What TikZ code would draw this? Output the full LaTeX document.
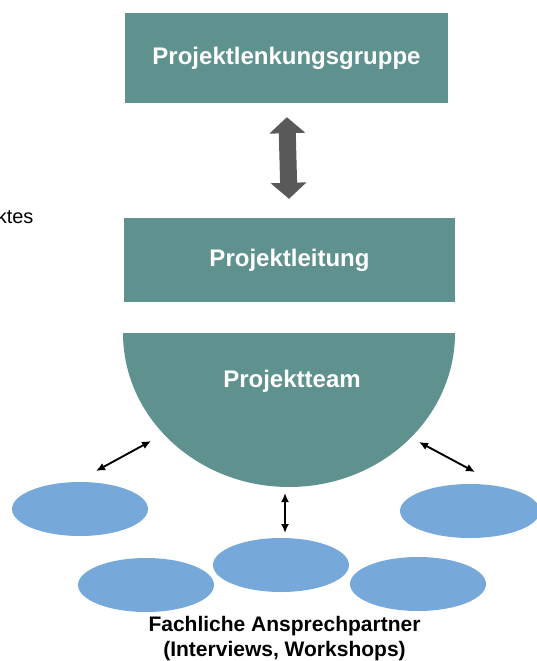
\documentclass[tikz,border=0pt]{standalone}
\usepackage{fontspec}
\setmainfont{Liberation Sans}
\usepackage{tikz}
\usetikzlibrary{arrows.meta,shapes.geometric}
\definecolor{plTeal}{HTML}{5F918F}
\definecolor{plBlue}{HTML}{76A9DA}
\definecolor{plGrau}{HTML}{595959}
\tikzset{
  plkasten/.style={rectangle,fill=plTeal,inner sep=0pt,text=white,
                   font=\fontsize{24}{28}\selectfont\bfseries},
  plellipse/.style={ellipse,fill=plBlue,inner sep=0pt,
                    minimum width=136,minimum height=54},
  plpfeil/.style={{Latex[length=9pt,width=8pt]}-{Latex[length=9pt,width=8pt]},
                  line width=1.9pt,black},
  plblock/.style={{Triangle[length=16pt,width=35pt]}-{Triangle[length=16pt,width=35pt]},
                  line width=17pt,plGrau},
  pltext/.style={font=\fontsize{21}{25}\selectfont\bfseries,align=center}
}

\begin{document}
\begin{tikzpicture}[x=1pt,y=-1pt]
    \useasboundingbox (0,0) rectangle (536,661);

    \node[plkasten,minimum width=323,minimum height=90] (lenkung)
      at (286.5,58) {Projektlenkungsgruppe};
    \node[plkasten,minimum width=331,minimum height=84] (leitung)
      at (289.5,260) {Projektleitung};
    \node[font=\fontsize{20}{24}\selectfont,anchor=base east] (rest)
      at (37,223) {ktes};

    \draw[plblock,shorten <=14pt,shorten >=19pt] (lenkung.south) -- (leitung.north);

    % Projektteam als Halbellipse
    \fill[plTeal] (123,333) arc[start angle=180,end angle=0,
      x radius=166,y radius=154] -- cycle;
    \node[plkasten,fill=none] (team) at (292,381) {Projektteam};

    \node[plellipse] (e1) at (80,509) {};
    \node[plellipse,minimum width=140] (e2) at (470,511) {};
    \node[plellipse] (e3) at (281,565) {};
    \node[plellipse] (e4) at (146,585) {};
    \node[plellipse] (e5) at (418,584) {};

    \coordinate (tl) at (151,441);
    \coordinate (tr) at (419,442);
    \coordinate (tm) at (285,493);
    \coordinate (al) at (96,471);
    \coordinate (ar) at (475,472);
    \coordinate (am) at (285,533);
    \draw[plpfeil] (al) -- (tl);
    \draw[plpfeil] (ar) -- (tr);
    \draw[plpfeil] (am) -- (tm);

    \node[pltext] (partner) at (284.5,639)
      {Fachliche Ansprechpartner\\(Interviews, Workshops)};
  \end{tikzpicture}
\end{document}
